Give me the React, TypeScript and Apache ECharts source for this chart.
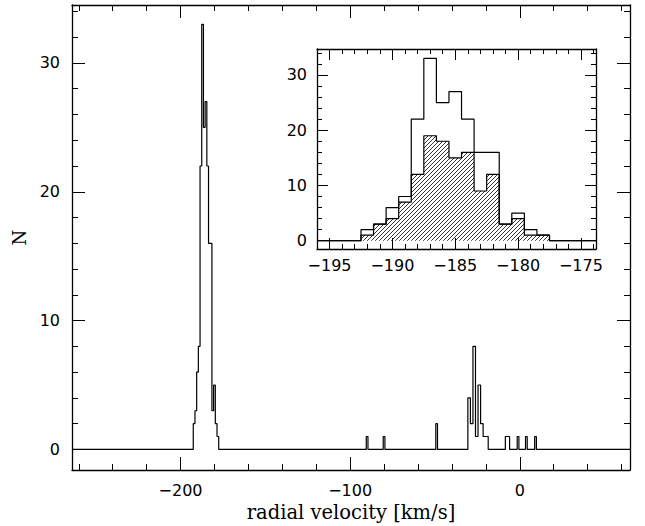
import React, { useEffect, useRef } from "react";
import * as echarts from "echarts";

// ---------- data ----------
// 1 km/s bins covering the main peak (first bin starts at peakFirstEdge)
const peakFirstEdge = -192.5;
const peakBinWidth = 1;
const allCounts = [2, 3, 6, 8, 22, 33, 25, 27, 22, 16, 16, 3, 5, 2, 1];
const memberCounts = [1, 3, 4, 7, 12, 19, 18, 15, 16, 9, 12, 3, 4, 1, 1];

// remaining bins of the full-range histogram
const otherLeft = [-90.5, -80.5, -49.5, -30.6, -29.1, -27.6, -26.1, -24.6, -23.1, -21.6, -20.1, -8.5, -1.5, 3.4, 8.8];
const otherRight = [-89.5, -79.5, -48.5, -29.1, -27.6, -26.1, -24.6, -23.1, -21.6, -20.1, -18.6, -6.0, -0.5, 4.4, 9.8];
const otherCounts = [1, 1, 2, 4, 2, 8, 1, 5, 2, 1, 1, 1, 1, 1, 1];

// axes
const mainXRange = [-264, 65];
const mainYRange = [-1.6, 34.5];
const insetXRange = [-196, -173.8];
const insetYRange = [-1.5, 34.7];

const mainXMajor = [-200, -100, 0];
const mainXMinor = [-260, -240, -220, -180, -160, -140, -120, -80, -60, -40, -20, 20, 40, 60];
const yMajor = [0, 10, 20, 30];
const yMinor = [2, 4, 6, 8, 12, 14, 16, 18, 22, 24, 26, 28, 32, 34];
const insetXMajor = [-195, -190, -185, -180, -175];
const insetXMinor = [-196, -194, -193, -192, -191, -189, -188, -187, -186, -184, -183, -182, -181, -179, -178, -177, -176, -174];

const xTitle = "radial velocity [km/s]";
const yTitle = "N";

// ---------- helpers ----------
type Bin = { l: number; r: number; c: number };

function peakBins(counts: number[]): Bin[] {
  return counts.map((c, i) => ({
    l: peakFirstEdge + i * peakBinWidth,
    r: peakFirstEdge + (i + 1) * peakBinWidth,
    c,
  }));
}

function stepOutline(bins: Bin[], xmin: number, xmax: number): number[][] {
  const pts: number[][] = [[xmin, 0]];
  let prevR = xmin;
  let prevC = 0;
  for (const b of bins) {
    if (Math.abs(b.l - prevR) > 1e-9) {
      if (prevC !== 0) pts.push([prevR, 0]);
      pts.push([b.l, 0]);
    }
    pts.push([b.l, b.c], [b.r, b.c]);
    prevR = b.r;
    prevC = b.c;
  }
  if (prevC !== 0) pts.push([prevR, 0]);
  pts.push([xmax, 0]);
  return pts;
}

const fmt = (v: number) => (v < 0 ? "\u2212" + Math.abs(v) : String(v));

const labelFont = {
  fontFamily: "DejaVu Sans",
  fontSize: 16,
  color: "#000",
};

function axis(
  grid: number,
  position: string,
  range: number[],
  ticks: number[],
  len: number,
  labels: number[] | null,
  margin: number,
  showLine: boolean,
  extra: any = {}
) {
  return {
    type: "value",
    gridIndex: grid,
    position,
    min: range[0],
    max: range[1],
    axisLine: { show: showLine, onZero: false, lineStyle: { color: "#000", width: 1.3 } },
    axisTick: {
      show: true,
      inside: true,
      length: len,
      customValues: ticks,
      lineStyle: { color: "#000", width: 1 },
    },
    axisLabel: labels
      ? { show: true, customValues: labels, formatter: fmt, margin, ...labelFont }
      : { show: false },
    splitLine: { show: false },
    minorTick: { show: false },
    ...extra,
  };
}

function hatchPattern() {
  const s = 4;
  const c = document.createElement("canvas");
  c.width = s;
  c.height = s;
  const ctx = c.getContext("2d")!;
  ctx.strokeStyle = "#000";
  ctx.lineWidth = 0.8;
  ctx.beginPath();
  ctx.moveTo(0, s);
  ctx.lineTo(s, 0);
  ctx.moveTo(-1, 1);
  ctx.lineTo(1, -1);
  ctx.moveTo(s - 1, s + 1);
  ctx.lineTo(s + 1, s - 1);
  ctx.stroke();
  return { image: c, repeat: "repeat", imageWidth: s, imageHeight: s } as any;
}

export default function App() {
  const ref = useRef<HTMLDivElement>(null);

  useEffect(() => {
    if (!ref.current) return;
    const chart = echarts.init(ref.current, null, { renderer: "svg" });

    const otherBins: Bin[] = otherLeft.map((l, i) => ({ l, r: otherRight[i], c: otherCounts[i] }));
    const mainBins = [...peakBins(allCounts), ...otherBins].sort((a, b) => a.l - b.l);

    const mainData = stepOutline(mainBins, mainXRange[0], mainXRange[1]);
    const insetAll = stepOutline(peakBins(allCounts), insetXRange[0], insetXRange[1]);
    const insetMembers = stepOutline(peakBins(memberCounts), insetXRange[0], insetXRange[1]);

    const lineSeries = (data: number[][], xi: number, yi: number, extra: any = {}) => ({
      type: "line",
      xAxisIndex: xi,
      yAxisIndex: yi,
      data,
      showSymbol: false,
      symbol: "none",
      silent: true,
      lineStyle: { color: "#000", width: 1.2 },
      ...extra,
    });

    chart.setOption({
      animation: false,
      backgroundColor: "#fff",
      grid: [
        { left: 72, right: 15, top: 5, bottom: 56, outerBoundsMode: "none", containLabel: false },
        {
          left: 317, right: 49, top: 49, bottom: 277,
          show: true, backgroundColor: "#fff", borderWidth: 0,
          outerBoundsMode: "none", containLabel: false,
        },
      ],
      xAxis: [
        axis(0, "bottom", mainXRange, mainXMajor, 13, mainXMajor, 12, true, {
          name: xTitle,
          nameLocation: "middle",
          nameGap: 31,
          nameTextStyle: { fontFamily: "DejaVu Serif", fontSize: 19.5, color: "#000" },
        }),
        axis(0, "bottom", mainXRange, mainXMinor, 6, null, 0, false),
        axis(0, "top", mainXRange, mainXMajor, 13, null, 0, true),
        axis(0, "top", mainXRange, mainXMinor, 6, null, 0, false),
        axis(1, "bottom", insetXRange, insetXMajor, 11, insetXMajor, 8, true),
        axis(1, "bottom", insetXRange, insetXMinor, 5, null, 0, false),
        axis(1, "top", insetXRange, insetXMajor, 11, null, 0, true),
        axis(1, "top", insetXRange, insetXMinor, 5, null, 0, false),
      ],
      yAxis: [
        axis(0, "left", mainYRange, yMajor, 13, yMajor, 12, true, {
          name: yTitle,
          nameLocation: "middle",
          nameRotate: 90,
          nameGap: 38,
          nameTextStyle: { fontFamily: "DejaVu Serif", fontSize: 18, color: "#000" },
        }),
        axis(0, "left", mainYRange, yMinor, 6, null, 0, false),
        axis(0, "right", mainYRange, yMajor, 13, null, 0, true),
        axis(0, "right", mainYRange, yMinor, 6, null, 0, false),
        axis(1, "left", insetYRange, yMajor, 11, yMajor, 10, true),
        axis(1, "left", insetYRange, yMinor, 5, null, 0, false),
        axis(1, "right", insetYRange, yMajor, 11, null, 0, true),
        axis(1, "right", insetYRange, yMinor, 5, null, 0, false),
      ],
      series: [
        lineSeries(mainData, 0, 0),
        lineSeries(insetMembers, 4, 4, {
          areaStyle: { color: hatchPattern(), opacity: 1, origin: 0 },
          z: 2,
        }),
        lineSeries(insetAll, 4, 4, { z: 3 }),
      ],
    });

    return () => chart.dispose();
  }, []);

  return (
    <div
      ref={ref}
      style={{ position: "absolute", left: 0, top: 0, width: 645, height: 526 }}
    />
  );
}
